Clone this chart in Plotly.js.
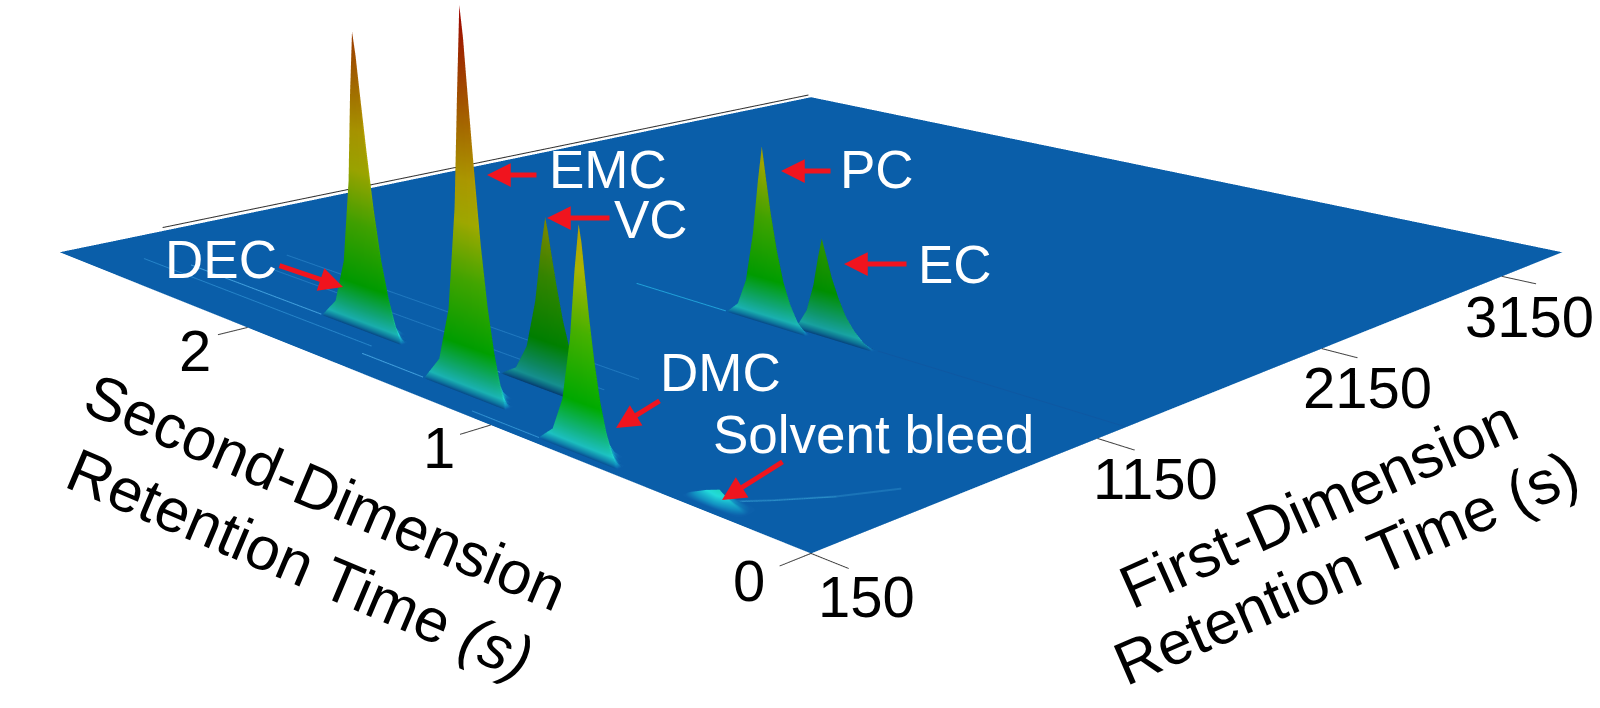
<!DOCTYPE html>
<html><head><meta charset="utf-8">
<script src="https://cdn.plot.ly/plotly-3.0.1.min.js"></script>
<style>html,body{margin:0;padding:0;background:#fff;width:1600px;height:708px;overflow:hidden}
#wrap{position:absolute;left:0;top:0;width:1600px;height:708px;overflow:hidden}
#c{position:absolute;left:0;top:-682px;width:1622px;height:1869px}</style></head>
<body><div id="wrap"><div id="c"></div></div>
<script>
var firstTicks=[150,1150,2150,3150];
var secondTicks=[0,1,2];
var planeT1=[150,3535];
var planeT2=[0,2.98];
var planeZ=[[.1,.1],[.1,.1]];

var decT1=[366,368,375,385,399,415,437];
var decT2=[1.609,1.64,1.665,1.688,1.709,1.727,1.741,1.75,1.773,1.802,1.844,1.892,1.959];
var decZ=[[0,0,0,0,0,0,0],
[0,5.8,4.2,.8,0,0,0],[0,14,11.6,5,.8,0,0],[0,25,21.6,11.6,4.2,.8,0],[0,40,35.7,22.4,10,2.5,0],
[0,56,52,37.3,20.3,7.3,0],[0,72,66.4,47.6,26,9.4,0],[0,83,76.4,54.8,29.9,10.8,0],[0,66.4,61,43.8,23.9,8.6,0],
[0,41.5,38.2,27.4,14.9,5.4,0],[0,18.3,16.8,12,6.6,2.4,0],[0,5.8,5.3,3.8,2.1,.7,0],[0,0,0,0,0,0,0]];

var emcT1=[244,246,253,263,277,293,315];
var emcT2=[1.055,1.079,1.099,1.117,1.134,1.148,1.159,1.166,1.188,1.216,1.257,1.303,1.368];
var emcZ=[[0,0,0,0,0,0,0],
[0,6.8,4.9,1,0,0,0],[0,16.5,13.6,5.8,1,0,0],[0,29,25.2,13.6,4.9,1,0],[0,46.6,41.7,26.2,11.6,2.9,0],
[0,67,61.7,43.5,23.8,8.5,0],[0,86,79,55.7,30.4,11,0],[0,99,91,64,34.9,12.6,0],[0,77.6,71.4,51.2,27.9,10.1,0],
[0,48.5,44.6,32,17.5,6.3,0],[0,21.3,19.6,14.1,7.7,2.8,0],[0,6.9,6.3,4.6,2.5,.9,0],[0,0,0,0,0,0,0]];

var vcT1=[413,415,422,432,446,462,484];
var vcT2=[.924,.958,.986,1.011,1.035,1.055,1.07,1.08,1.101,1.127,1.165,1.209,1.269];
var vcZ=[[0,0,0,0,0,0,0],
[0,3.2,2.3,.5,0,0,0],[0,7.7,6.4,2.7,.5,0,0],[0,13.7,11.8,6.4,2.3,.5,0],[0,21.8,19.6,12.3,5.5,1.4,0],
[0,30.9,28.5,20.4,11.1,4,0],[0,39.6,36.4,26.1,14.3,5.1,0],[0,45.5,41.9,30,16.4,5.9,0],[0,36.4,33.5,24,13.1,4.7,0],
[0,22.8,20.9,15,8.2,3,0],[0,10,9.2,6.6,3.6,1.3,0],[0,3.2,2.9,2.1,1.1,.4,0],[0,0,0,0,0,0,0]];

var dmcT1=[176,178,185,195,209,225,247];
var dmcT2=[.596,.62,.639,.656,.672,.686,.696,.703,.721,.743,.775,.812,.864];
var dmcZ=[[0,0,0,0,0,0,0],
[0,3.9,2.8,.6,0,0,0],[0,9.5,7.8,3.4,.6,0,0],[0,16.8,14.6,7.8,2.8,.6,0],[0,26.9,24.1,15.1,6.7,1.7,0],
[0,38.1,35,25.1,13.7,5,0],[0,48.7,44.8,32.1,17.5,6.3,0],[0,56,51.5,37,20.2,7.3,0],[0,44.8,41.2,29.6,16.1,5.8,0],
[0,28,25.8,18.5,10.1,3.6,0],[0,12.3,11.3,8.1,4.4,1.6,0],[0,3.9,3.6,2.6,1.4,.5,0],[0,0,0,0,0,0,0]];

var pcT1=[1218,1220,1227,1237,1251,1267,1289];
var pcT2=[.957,.992,1.02,1.045,1.068,1.089,1.104,1.114,1.129,1.148,1.175,1.206,1.249];
var pcZ=[[0,0,0,0,0,0,0],
[0,3.5,2.5,.5,0,0,0],[0,8.5,7,3,.5,0,0],[0,15,13,7,2.5,.5,0],[0,24,21.5,13.5,6,1.5,0],
[0,34,31.3,22.4,12.2,4.4,0],[0,43.5,40,28.7,15.7,5.7,0],[0,50,46,33,18,6.5,0],[0,40,36.8,26.4,14.4,5.2,0],
[0,25,23,16.5,9,3.3,0],[0,11,10.1,7.3,4,1.4,0],[0,3.5,3.2,2.3,1.3,.5,0],[0,0,0,0,0,0,0]];

var ecT1=[1249,1251,1258,1268,1282,1298,1320];
var ecT2=[.754,.793,.825,.854,.88,.904,.92,.932,.945,.961,.985,1.012,1.049];
var ecZ=[[0,0,0,0,0,0,0],
[0,1.9,1.4,.3,0,0,0],[0,4.7,3.9,1.7,.3,0,0],[0,8.3,7.2,3.9,1.4,.3,0],[0,13.2,11.8,7.4,3.3,.8,0],
[0,18.7,17.2,12.3,6.7,2.4,0],[0,23.9,22,15.8,8.6,3.1,0],[0,27.5,25.3,18.2,9.9,3.6,0],[0,22,20.2,14.5,7.9,2.9,0],
[0,13.8,12.7,9.1,5,1.8,0],[0,6.1,5.6,4,2.2,.8,0],[0,1.9,1.8,1.3,.7,.2,0],[0,0,0,0,0,0,0]];

var bleedT1=[170,185,196,215,250];
var bleedT2=[.22,.27,.3,.34,.4];
var bleedZ=[[0,0,0,0,0],[0,1.1,2,.8,0],[0,2.2,3.8,1.6,0],[0,1.4,2.5,1.1,0],[0,0,0,0,0]];

var streaks=[
 {t1:[367,367],t2:[1.96,2.6],c:'#3f9ddb',w:2},
 {t1:[300,300],t2:[1.65,2.75],c:'#2583c8',w:2},
 {t1:[245,245],t2:[1.37,1.62],c:'#3f9ddb',w:2},
 {t1:[414,414],t2:[1.27,1.5],c:'#2f8fd0',w:2},
 {t1:[177,177],t2:[.86,1.1],c:'#2f8fd0',w:2},
 {t1:[1219,1219],t2:[1.25,1.6],c:'#20a0d8',w:2},
 {t1:[520,520],t2:[1.0,2.4],c:'#1f78bf',w:2},
 {t1:[640,640],t2:[1.0,2.5],c:'#1f78bf',w:2},
 {t1:[1262,1262],t2:[0,.75],c:'#0e58a2',w:2},
 {t1:[206,300,419,560],t2:[.311,.24,.164,.1],c:'#1a74b8',w:5},
 {t1:[206,300,419],t2:[.311,.24,.164],c:'#2a90c8',w:2}
];
var backLineT1=[514,3520];
var backLineT2=[2.98,2.98];
var backLineZ=[1.2,1.2];

var scaleStops=[[0,'#0a5ea9'],[.008,'#1090c0'],[.025,'#20d8d8'],[.06,'#14cc90'],[.13,'#00c000'],[.3,'#50c800'],[.45,'#c0cc00'],[.56,'#d0b800'],[.7,'#c87c00'],[.85,'#c04000'],[1,'#c00000']];

var W=1622,H=1869,TOP=682;
function px(x){return x/W}
function py(y){return 1-(y+TOP)/H}

var traces=[];
traces.push({type:'surface',x:planeT1,y:planeT2,z:planeZ,cmin:0,cmax:100,colorscale:[[0,'#0a5ea9'],[1,'#0a5ea9']],showscale:false,hoverinfo:'skip',
 lighting:{ambient:1,diffuse:0,specular:0,fresnel:0,roughness:1}});
[[decT1,decT2,decZ,.72],[emcT1,emcT2,emcZ,.72],[vcT1,vcT2,vcZ,.55],[dmcT1,dmcT2,dmcZ,.76],[pcT1,pcT2,pcZ,.68],[ecT1,ecT2,ecZ,.6],[bleedT1,bleedT2,bleedZ,.8]].forEach(function(p){
 traces.push({type:'surface',x:p[0],y:p[1],z:p[2],cmin:0,cmax:100,colorscale:scaleStops,showscale:false,hoverinfo:'skip',
  lighting:{ambient:p[3],diffuse:.6,specular:.02,fresnel:0,roughness:.9},lightposition:{x:-10000,y:10000,z:2000}});
});
streaks.forEach(function(s){
 traces.push({type:'scatter3d',mode:'lines',x:s.t1,y:s.t2,z:s.t1.map(function(){return .25}),line:{color:s.c,width:s.w},hoverinfo:'skip',showlegend:false});
});
traces.push({type:'scatter3d',mode:'lines',x:backLineT1,y:backLineT2,z:backLineZ,line:{color:'#333',width:2},hoverinfo:'skip',showlegend:false});
firstTicks.forEach(function(t){
 traces.push({type:'scatter3d',mode:'lines',x:[t,t],y:[0,-.1],z:[.1,.1],line:{color:'#444',width:2},hoverinfo:'skip',showlegend:false});
});
secondTicks.forEach(function(t){
 traces.push({type:'scatter3d',mode:'lines',x:[150,55],y:[t,t],z:[.1,.1],line:{color:'#444',width:2},hoverinfo:'skip',showlegend:false});
});

var font='"Liberation Sans",Arial,sans-serif';
var tickShift={150:[55,-43],1150:[58,-40],2150:[46,-39],3150:[28,-40]};
var secShift={0:[-62,-27],1:[-52,-22],2:[-52,-23]};
var sceneAnn=[];
firstTicks.forEach(function(t){sceneAnn.push({x:t,y:0,z:0,text:String(t),showarrow:false,xshift:tickShift[t][0],yshift:tickShift[t][1],font:{family:font,size:58,color:'#000'}})});
secondTicks.forEach(function(t){sceneAnn.push({x:150,y:t,z:0,text:String(t),showarrow:false,xshift:secShift[t][0],yshift:secShift[t][1],font:{family:font,size:58,color:'#000'}})});

var ann=[];
function label(t,x,y,c,size,ang){ann.push({xref:'paper',yref:'paper',x:px(x),y:py(y),text:t,showarrow:false,xanchor:'center',yanchor:'middle',textangle:ang||0,font:{family:font,size:size,color:c}})}
label('DEC',221,259,'#fff',53);label('EMC',608,169,'#fff',53);label('VC',651,219,'#fff',53);
label('PC',877,170,'#fff',53);label('EC',955,265,'#fff',53);label('DMC',720,372,'#fff',53);
label('Solvent bleed',873,434,'#fff',53);
label('Second-Dimension',325,492,'#000',61,23);
label('Retention Time <i>(s)</i>',300,564,'#000',61,23);
label('First-Dimension',1318,504,'#000',61,-24);
label('Retention Time (s)',1346,568,'#000',61,-23.5);
function arrow(tx,ty,hx,hy){ann.push({xref:'paper',yref:'paper',x:px(hx),y:py(hy),axref:'pixel',ayref:'pixel',ax:tx-hx,ay:ty-hy,text:'',showarrow:true,arrowhead:2,arrowsize:.95,arrowwidth:5,arrowcolor:'#f0141e',standoff:0})}
arrow(538,175,487,175);arrow(611,218,547,218);arrow(832,171,781,171);arrow(908,264,844,264);
arrow(278,265,343,287);arrow(661,400,616,428);arrow(784,461,722,500);

var hid={visible:false,showspikes:false,showgrid:false,zeroline:false,showticklabels:false,showbackground:false};
var layout={width:W,height:H,margin:{l:0,r:0,t:0,b:0},paper_bgcolor:'#fff',showlegend:false,annotations:ann,
 scene:{domain:{x:[0,1],y:[0,1]},
  xaxis:Object.assign({range:[50,3535]},hid),yaxis:Object.assign({range:[-.1,2.98]},hid),zaxis:Object.assign({range:[0,100]},hid),
  aspectmode:'manual',aspectratio:{x:1.0295,y:1.0336,z:.307},
  camera:{projection:{type:'perspective'},up:{x:0,y:0,z:1},center:{x:.0148,y:.0168,z:-.1535},eye:{x:-1.430,y:-1.428,z:.4255}},
  annotations:sceneAnn}};
Plotly.newPlot('c',traces,layout,{displayModeBar:false});
</script></body></html>
